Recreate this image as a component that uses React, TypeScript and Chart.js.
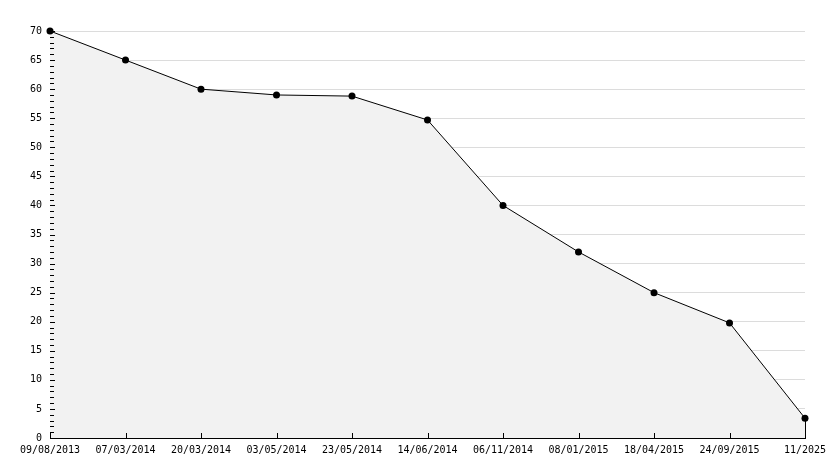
import React, { useEffect, useRef } from "react";
import { Chart, registerables } from "chart.js";

Chart.register(...registerables);

const categories = [
  "09/08/2013",
  "07/03/2014",
  "20/03/2014",
  "03/05/2014",
  "23/05/2014",
  "14/06/2014",
  "06/11/2014",
  "08/01/2015",
  "18/04/2015",
  "24/09/2015",
  "11/2025",
];
const values = [70, 65, 60, 59, 58.8, 54.7, 40, 32, 25, 19.8, 3.4];
const yMin = 0;
const yMax = 70;
const yStep = 5;
const yMinorStep = 1;

const FONT = { family: "'DejaVu Sans Mono', monospace", size: 10 };

const tickPlugin = {
  id: "innerTicks",
  afterDatasetsDraw(chart: any) {
    const { ctx, chartArea, scales } = chart;
    const y = scales.y;
    const x = scales.x;
    ctx.save();
    ctx.strokeStyle = "#000";
    ctx.lineWidth = 1;
    ctx.beginPath();
    for (let v = yMin; v <= yMax; v += yMinorStep) {
      const py = Math.round(y.getPixelForValue(v)) + 0.5;
      const len = v % yStep === 0 ? 5 : 4;
      ctx.moveTo(chartArea.left, py);
      ctx.lineTo(chartArea.left + len, py);
    }
    for (let i = 0; i < categories.length; i++) {
      const px = Math.round(x.getPixelForValue(i)) + 0.5;
      ctx.moveTo(px, chartArea.bottom);
      ctx.lineTo(px, chartArea.bottom - 5);
    }
    // right edge of the filled area
    const meta = chart.getDatasetMeta(0);
    const last = meta.data[meta.data.length - 1];
    if (last) {
      const px = Math.round(last.x) + 0.5;
      ctx.moveTo(px, last.y);
      ctx.lineTo(px, chartArea.bottom);
    }
    ctx.stroke();
    ctx.restore();
  },
};

export default function App() {
  const ref = useRef<HTMLCanvasElement>(null);
  useEffect(() => {
    if (!ref.current) return;
    const chart = new Chart(ref.current, {
      type: "line",
      data: {
        labels: categories,
        datasets: [
          {
            data: values,
            borderColor: "#000",
            borderWidth: 1,
            backgroundColor: "#f2f2f2",
            fill: "origin",
            tension: 0,
            clip: false,
            pointRadius: 3.5,
            pointBackgroundColor: "#000",
            pointBorderColor: "#000",
            pointBorderWidth: 0,
            pointStyle: "circle",
          },
        ],
      },
      options: {
        animation: false,
        responsive: false,
        devicePixelRatio: 1,
        layout: { padding: { left: 0, right: 29, top: 31, bottom: 0 } },
        plugins: { legend: { display: false }, tooltip: { enabled: false } },
        scales: {
          x: {
            type: "category",
            offset: false,
            grid: { display: false, drawTicks: false },
            border: { color: "#000", width: 1 },
            ticks: {
              font: FONT,
              color: "#000",
              padding: 6,
              maxRotation: 0,
              autoSkip: false,
            },
            afterFit: (s: any) => {
              s.height = 30;
            },
          },
          y: {
            min: yMin,
            max: yMax,
            grid: { color: "#dcdcdc", drawTicks: false },
            border: { color: "#000", width: 1 },
            ticks: {
              stepSize: yStep,
              font: FONT,
              color: "#000",
              padding: 8,
            },
            afterFit: (s: any) => {
              s.width = 50;
            },
          },
        },
      },
      plugins: [tickPlugin],
    });
    return () => chart.destroy();
  }, []);
  return (
    <div style={{ position: "fixed", left: 0, top: 0, width: 834, height: 468, background: "#fff" }}>
      <canvas ref={ref} width={834} height={468} style={{ display: "block" }} />
    </div>
  );
}
